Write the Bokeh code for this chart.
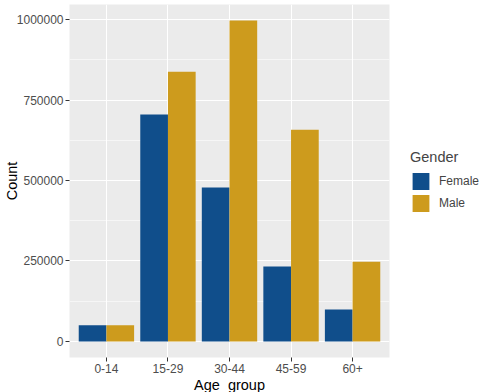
from bokeh.plotting import figure
from bokeh.models import (ColumnDataSource, Range1d, FixedTicker, SingleIntervalTicker,
                          Legend, LegendItem, NumeralTickFormatter)
from bokeh.transform import dodge
from bokeh.embed import file_html
from bokeh.resources import INLINE

age_groups = ["0-14", "15-29", "30-44", "45-59", "60+"]
female = [50000, 705000, 478000, 233000, 99000]
male = [50000, 838000, 997000, 658000, 248000]
y_ticks = [0, 250000, 500000, 750000, 1000000]

FONT = "Liberation Sans"
BLUE = "#104E8B"
GOLD = "#CD9B1D"

idx = list(range(1, len(age_groups) + 1))
src = ColumnDataSource(dict(idx=idx, female=female, male=male, grp=age_groups))

p = figure(width=483, height=392, frame_width=320, frame_height=353,
           output_backend="svg", toolbar_location=None,
           x_range=Range1d(0.4, 5.6), y_range=Range1d(-49850, 1046850),
           min_border_left=0, min_border_top=4, min_border_bottom=10, min_border_right=0,
           background_fill_color="#EBEBEB", border_fill_color="white", outline_line_color=None)

r_f = p.vbar(x=dodge("idx", -0.225, range=p.x_range), top="female", width=0.45, source=src,
             fill_color=BLUE, line_color=None)
r_m = p.vbar(x=dodge("idx", 0.225, range=p.x_range), top="male", width=0.45, source=src,
             fill_color=GOLD, line_color=None)

p.xaxis.ticker = FixedTicker(ticks=idx)
p.xaxis.major_label_overrides = {i: g for i, g in zip(idx, age_groups)}
p.yaxis.ticker = SingleIntervalTicker(interval=250000, num_minor_ticks=2)
p.yaxis.formatter = NumeralTickFormatter(format="0")

for ax in (p.xaxis[0], p.yaxis[0]):
    ax.axis_line_color = None
    ax.major_tick_in = 0
    ax.major_tick_out = 4
    ax.major_tick_line_color = "#333333"
    ax.minor_tick_line_color = None
    ax.major_label_text_font = FONT
    ax.major_label_text_font_size = "12px"
    ax.major_label_text_color = "#4D4D4D"
    ax.major_label_standoff = 2
    ax.axis_label_text_font = FONT
    ax.axis_label_text_font_size = "14.5px"
    ax.axis_label_text_font_style = "normal"
    ax.axis_label_text_color = "black"
    ax.axis_label_standoff = 1

p.yaxis.axis_label_standoff = -6
p.xaxis.axis_label = "Age_group"
p.yaxis.axis_label = "Count"

p.xgrid.grid_line_color = "white"
p.xgrid.grid_line_width = 1.1
p.ygrid.grid_line_color = "white"
p.ygrid.grid_line_width = 1.1
p.ygrid.minor_grid_line_color = "white"
p.ygrid.minor_grid_line_width = 0.55

legend = Legend(items=[LegendItem(label="Female", renderers=[r_f]),
                       LegendItem(label="Male", renderers=[r_m])],
                title="Gender", location="center_left",
                title_text_font=FONT, title_text_font_size="14.5px", title_text_font_style="normal",
                label_text_font=FONT, label_text_font_size="12px",
                glyph_width=21, glyph_height=21, spacing=1, label_standoff=8,
                padding=0, margin=21, title_standoff=6,
                border_line_color=None, background_fill_alpha=0)
p.add_layout(legend, "right")

open("out.html", "w").write(file_html(p, INLINE))
